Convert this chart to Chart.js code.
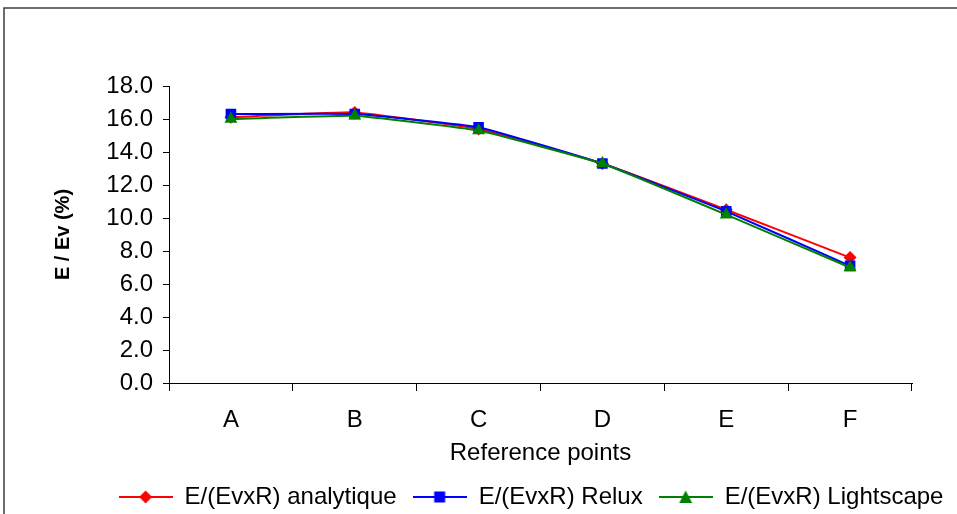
<!DOCTYPE html>
<html>
<head>
<meta charset="utf-8">
<script src="https://cdn.jsdelivr.net/npm/chart.js@4.4.0/dist/chart.umd.min.js"></script>
<style>
  html, body { margin: 0; padding: 0; background: #fff; }
  #wrap { width: 957px; height: 514px; }
</style>
</head>
<body>
<div id="wrap"><canvas id="refChart" width="957" height="514"></canvas></div>
<script>
// values
const categories = ['A', 'B', 'C', 'D', 'E', 'F'];
const analytique = [16.1, 16.4, 15.4, 13.3, 10.5, 7.6];
const relux = [16.3, 16.3, 15.5, 13.3, 10.4, 7.1];
const lightscape = [16.0, 16.2, 15.3, 13.3, 10.2, 7.0];
const seriesNames = ['E/(EvxR) analytique', 'E/(EvxR) Relux', 'E/(EvxR) Lightscape'];

const FONT = "'Liberation Sans', Arial, sans-serif";

// small canvas used as legend symbol: line with marker in the middle
function legendSymbol(color, shape) {
    const c = document.createElement('canvas');
    c.width = 54; c.height = 16;
    const g = c.getContext('2d');
    g.strokeStyle = color;
    g.fillStyle = color;
    g.lineWidth = 2;
    g.beginPath();
    g.moveTo(0, 8); g.lineTo(54, 8);
    g.stroke();
    g.beginPath();
    if (shape === 'diamond') {
        g.moveTo(27, 1.5); g.lineTo(33.5, 8); g.lineTo(27, 14.5); g.lineTo(20.5, 8);
    } else if (shape === 'square') {
        g.rect(21.5, 2.5, 11, 11);
    } else {
        g.moveTo(27, 1.5); g.lineTo(33.5, 14); g.lineTo(20.5, 14);
    }
    g.closePath();
    g.fill();
    return c;
}

const framePlugin = {
    id: 'frame',
    afterLayout(chart) {
        // centre the legend under the plot area like the original
        if (chart.legend) {
            chart.legend.left = 75;
            chart.legend.right = 987;
        }
    },
    beforeDraw(chart) {
        const ctx = chart.ctx;
        ctx.save();
        ctx.fillStyle = '#fff';
        ctx.fillRect(0, 0, chart.width, chart.height);
        ctx.strokeStyle = '#3c3c3c';
        ctx.lineWidth = 1.5;
        ctx.strokeRect(4, 8, 1200, 1200);
        ctx.restore();
    }
};

function makeSet(label, data, color, style, radius, shape, order) {
    return {
        label: label,
        data: data,
        borderColor: color,
        backgroundColor: color,
        borderWidth: 2,
        pointStyle: style,
        pointRadius: radius,
        pointHoverRadius: radius,
        pointBorderWidth: 0,
        fill: false,
        tension: 0.1,
        order: order,
        legendImg: legendSymbol(color, shape)
    };
}

const chart = new Chart(document.getElementById('refChart'), {
    type: 'line',
    data: {
        labels: categories,
        datasets: [
            makeSet(seriesNames[0], analytique, '#ff0000', 'rectRot', 6.5, 'diamond', 3),
            makeSet(seriesNames[1], relux, '#0000ff', 'rect', 7.5, 'square', 2),
            makeSet(seriesNames[2], lightscape, '#008000', 'triangle', 7.5, 'triangle', 1)
        ]
    },
    options: {
        responsive: false,
        animation: false,
        layout: { padding: { top: 86, right: 45, bottom: -5, left: 0 } },
        plugins: {
            tooltip: { enabled: false },
            legend: {
                position: 'bottom',
                labels: {
                    font: { family: FONT, size: 24 },
                    color: '#000',
                    usePointStyle: true,
                    pointStyleWidth: 54,
                    boxHeight: 16,
                    padding: 16,
                    generateLabels(ch) {
                        return ch.data.datasets.map((ds, i) => ({
                            text: ds.label,
                            pointStyle: ds.legendImg,
                            fillStyle: ds.borderColor,
                            strokeStyle: ds.borderColor,
                            lineWidth: 0,
                            hidden: false,
                            datasetIndex: i,
                            fontColor: '#000'
                        }));
                    }
                }
            }
        },
        scales: {
            x: {
                offset: true,
                grid: { display: true, drawOnChartArea: false, offset: true, tickLength: 8, color: '#000' },
                border: { color: '#000', width: 1 },
                ticks: { font: { family: FONT, size: 24 }, color: '#000', padding: 15 },
                title: { display: true, text: 'Reference points', font: { family: FONT, size: 24 }, color: '#000', padding: { top: 0, bottom: 1 } },
                afterFit(scale) { scale.height = 86; }
            },
            y: {
                min: 0,
                max: 18,
                grid: { display: true, drawOnChartArea: false, tickLength: 6, color: '#000' },
                border: { color: '#000', width: 1 },
                ticks: {
                    stepSize: 2,
                    font: { family: FONT, size: 24 },
                    color: '#000',
                    padding: 10,
                    callback: v => v.toFixed(1)
                },
                title: { display: true, text: 'E / Ev (%)', font: { family: FONT, size: 20, weight: 'bold' }, color: '#000', padding: { top: 51, bottom: 0 } },
                afterFit(scale) { scale.width = 169; }
            }
        }
    },
    plugins: [framePlugin]
});
</script>
</body>
</html>
